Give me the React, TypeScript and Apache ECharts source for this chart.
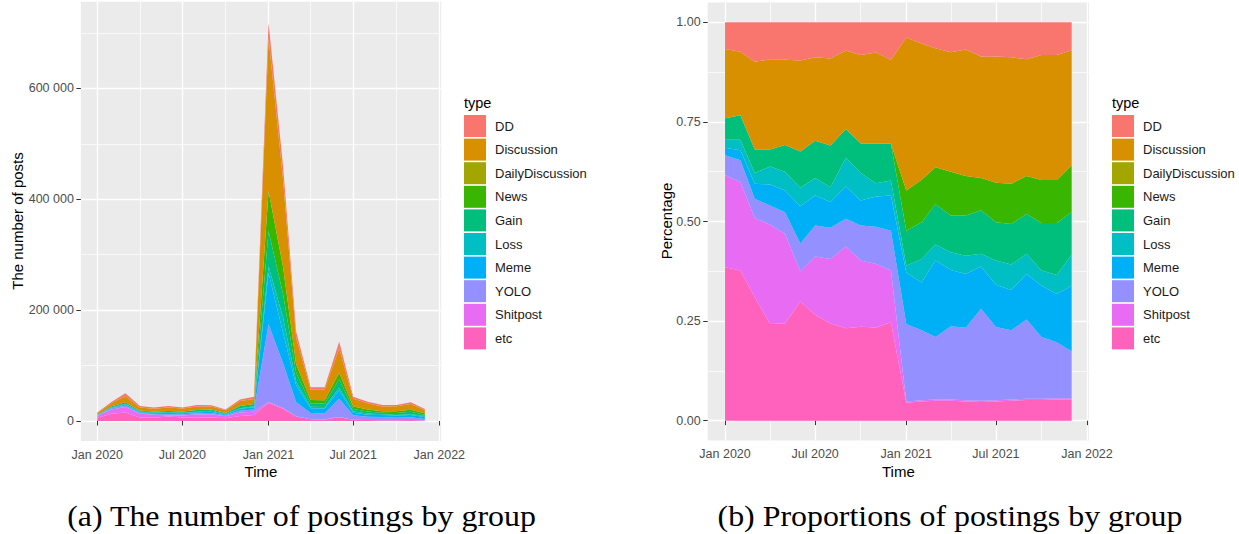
import React, { useEffect, useRef } from "react";
import * as echarts from "echarts";

// ---- data (monthly, first of month) ----
const months = [
  "2020-01", "2020-02", "2020-03", "2020-04", "2020-05", "2020-06",
  "2020-07", "2020-08", "2020-09", "2020-10", "2020-11", "2020-12",
  "2021-01", "2021-02", "2021-03", "2021-04", "2021-05", "2021-06",
  "2021-07", "2021-08", "2021-09", "2021-10", "2021-11", "2021-12",
];

// total number of posts per month (panel a outline)
const totalPosts = [
  15600, 35000, 50000, 27000, 24600, 27000, 24600, 28900, 28300, 21000, 39000, 44000,
  718000, 460000, 161000, 61000, 61000, 143000, 44000, 35000, 29000, 29000, 33700, 21600,
];

// share of each type per month (panel b)
const ddShare = [
  0.067, 0.074, 0.099, 0.093, 0.094, 0.096, 0.088, 0.091, 0.071, 0.082, 0.076, 0.094,
  0.038, 0.053, 0.065, 0.075, 0.068, 0.086, 0.086, 0.088, 0.093, 0.082, 0.082, 0.070,
];
const discussionShare = [
  0.174, 0.159, 0.220, 0.226, 0.214, 0.228, 0.209, 0.218, 0.197, 0.222, 0.228, 0.210,
  0.384, 0.342, 0.299, 0.300, 0.318, 0.305, 0.317, 0.317, 0.293, 0.314, 0.314, 0.289,
];
const dailyDiscussionShare = [
  0, 0, 0, 0, 0, 0, 0, 0, 0, 0, 0, 0,
  0, 0, 0, 0, 0, 0, 0, 0, 0, 0, 0, 0,
];
const newsShare = [
  0, 0, 0, 0, 0, 0, 0, 0, 0, 0, 0, 0,
  0.101, 0.107, 0.093, 0.110, 0.099, 0.081, 0.099, 0.101, 0.095, 0.108, 0.108, 0.117,
];
const gainShare = [
  0.054, 0.062, 0.059, 0.043, 0.067, 0.091, 0.094, 0.105, 0.072, 0.074, 0.100, 0.093,
  0.088, 0.092, 0.101, 0.092, 0.101, 0.109, 0.096, 0.102, 0.100, 0.119, 0.130, 0.107,
];
const lossShare = [
  0.020, 0.026, 0.027, 0.045, 0.047, 0.047, 0.044, 0.037, 0.072, 0.069, 0.033, 0.038,
  0.017, 0.059, 0.040, 0.045, 0.046, 0.032, 0.061, 0.064, 0.051, 0.038, 0.048, 0.078,
];
const memeShare = [
  0.019, 0.025, 0.038, 0.053, 0.055, 0.093, 0.075, 0.065, 0.081, 0.063, 0.076, 0.088,
  0.129, 0.120, 0.192, 0.141, 0.135, 0.106, 0.106, 0.101, 0.114, 0.129, 0.121, 0.165,
];
const yoloShare = [
  0.050, 0.055, 0.048, 0.048, 0.054, 0.070, 0.078, 0.078, 0.070, 0.088, 0.094, 0.100,
  0.195, 0.176, 0.157, 0.184, 0.182, 0.231, 0.184, 0.174, 0.199, 0.155, 0.141, 0.118,
];
const shitpostShare = [
  0.231, 0.222, 0.199, 0.249, 0.225, 0.076, 0.146, 0.162, 0.205, 0.166, 0.159, 0.130,
  0.003, 0.003, 0.003, 0.003, 0.003, 0.003, 0.003, 0.003, 0.003, 0.003, 0.003, 0.003,
];
const etcShare = [
  0.385, 0.377, 0.310, 0.243, 0.244, 0.299, 0.266, 0.244, 0.232, 0.236, 0.234, 0.247,
  0.045, 0.048, 0.050, 0.050, 0.048, 0.047, 0.048, 0.050, 0.052, 0.052, 0.053, 0.053,
];

const typeNames = ["DD", "Discussion", "DailyDiscussion", "News", "Gain", "Loss", "Meme", "YOLO", "Shitpost", "etc"];
const typeColors = ["#F8766D", "#D89000", "#A3A500", "#39B600", "#00BF7D", "#00BFC4", "#00B0F6", "#9590FF", "#E76BF3", "#FF62BC"];
const typeShares = [ddShare, discussionShare, dailyDiscussionShare, newsShare, gainShare, lossShare, memeShare, yoloShare, shitpostShare, etcShare];

const countTicks = [0, 200000, 400000, 600000];
const countMinorTicks = [100000, 300000, 500000, 700000];
const shareTicks = [0, 0.25, 0.5, 0.75, 1];
const shareMinorTicks = [0.125, 0.375, 0.625, 0.875];
const dateTicks = ["2020-01", "2020-07", "2021-01", "2021-07", "2022-01"];
const dateMinorTicks = ["2020-04", "2020-10", "2021-04", "2021-10"];
const monthAbbr = ["Jan", "Feb", "Mar", "Apr", "May", "Jun", "Jul", "Aug", "Sep", "Oct", "Nov", "Dec"];

const captionA = "(a) The number of postings by group";
const captionB = "(b) Proportions of postings by group";

// ---- helpers ----
const toTs = (m: string) => Date.UTC(+m.slice(0, 4), +m.slice(5, 7) - 1, 1);
const monthTs = months.map(toTs);
const monthSum = months.map((_, i) => typeShares.reduce((s, arr) => s + arr[i], 0));
const fmtDate = (v: number) => {
  const d = new Date(v);
  return `${monthAbbr[d.getUTCMonth()]} ${d.getUTCFullYear()}`;
};
const fmtCount = (v: number) => (v === 0 ? "0" : `${Math.round(v / 1000)} 000`);

const FONT = "Liberation Sans";
const xMin = Date.UTC(2019, 10, 27);
const xMax = Date.UTC(2022, 0, 5);

function mainX(gridIndex: number) {
  return {
    type: "value", gridIndex, min: xMin, max: xMax,
    axisLine: { show: false },
    axisTick: { show: true, length: 4.5, lineStyle: { color: "#333333", width: 1 }, customValues: dateTicks.map(toTs) },
    axisLabel: { customValues: dateTicks.map(toTs), formatter: (v: number) => fmtDate(v), color: "#4D4D4D", fontFamily: FONT, fontSize: 12.5, margin: 7 },
    splitLine: { show: true, lineStyle: { color: "#FFFFFF", width: 1.3 } },
  };
}
function minorX(gridIndex: number) {
  return {
    type: "value", gridIndex, min: xMin, max: xMax, position: "bottom",
    axisLine: { show: false },
    axisTick: { show: false, customValues: dateMinorTicks.map(toTs) },
    axisLabel: { show: false, customValues: dateMinorTicks.map(toTs) },
    splitLine: { show: true, lineStyle: { color: "#FFFFFF", width: 0.7 } },
  };
}
function mainY(gridIndex: number, min: number, max: number, ticks: number[], fmt: (v: number) => string) {
  return {
    type: "value", gridIndex, min, max,
    axisLine: { show: false },
    axisTick: { show: true, length: 4.5, lineStyle: { color: "#333333", width: 1 }, customValues: ticks },
    axisLabel: { customValues: ticks, formatter: fmt, color: "#4D4D4D", fontFamily: FONT, fontSize: 12.5, margin: 7 },
    splitLine: { show: true, lineStyle: { color: "#FFFFFF", width: 1.3 } },
  };
}
function minorY(gridIndex: number, min: number, max: number, ticks: number[]) {
  return {
    type: "value", gridIndex, min, max, position: "left",
    axisLine: { show: false },
    axisTick: { show: false, customValues: ticks },
    axisLabel: { show: false, customValues: ticks },
    splitLine: { show: true, lineStyle: { color: "#FFFFFF", width: 0.7 } },
  };
}

// data rows are [value, time] so that the value (y) dimension is the stacked one
function buildSeries() {
  const out: any[] = [];
  const order = typeNames.map((_, k) => k).reverse(); // bottom (etc) first
  const common = (k: number) => ({
    type: "line", name: typeNames[k], color: typeColors[k],
    symbol: "none", showSymbol: false, silent: true,
    encode: { x: 1, y: 0 },
    lineStyle: { width: 0 }, itemStyle: { color: typeColors[k] },
    areaStyle: { color: typeColors[k], opacity: 1 },
  });
  order.forEach((k) => {
    out.push({
      ...common(k), xAxisIndex: 0, yAxisIndex: 0, stack: "count",
      data: monthTs.map((t, i) => [typeShares[k][i] * totalPosts[i], t]),
    });
  });
  order.forEach((k) => {
    out.push({
      ...common(k), xAxisIndex: 2, yAxisIndex: 2, stack: "share",
      data: monthTs.map((t, i) => [typeShares[k][i] / monthSum[i], t]),
    });
  });
  return out;
}

function legend(left: number) {
  return {
    orient: "vertical", left, top: 115, padding: 0, itemGap: 1.6,
    itemWidth: 22, itemHeight: 22, icon: "rect", selectedMode: false,
    data: typeNames,
    textStyle: { color: "#1A1A1A", fontFamily: FONT, fontSize: 13, padding: [0, 0, 0, 4] },
  };
}

export default function App() {
  const ref = useRef<HTMLDivElement>(null);
  useEffect(() => {
    if (!ref.current) return;
    const chart = echarts.init(ref.current, undefined, { renderer: "svg" });
    const titleStyle = { fill: "#000000", fontFamily: FONT, fontSize: 15 };
    const captionStyle = { fill: "#000000", fontFamily: "Liberation Serif", fontSize: 29, textAlign: "center", textVerticalAlign: "middle" };
    chart.setOption({
      animation: false,
      backgroundColor: "#FFFFFF",
      grid: [
        { left: 80.9, top: 1.8, width: 360.3, height: 439.2, show: true, backgroundColor: "#EBEBEB", borderWidth: 0 },
        { left: 707.7, top: 2.4, width: 381.3, height: 438.2, show: true, backgroundColor: "#EBEBEB", borderWidth: 0 },
      ],
      xAxis: [mainX(0), minorX(0), mainX(1), minorX(1)],
      yAxis: [
        mainY(0, -36000, 756000, countTicks, fmtCount),
        minorY(0, -36000, 756000, countMinorTicks),
        mainY(1, -0.05, 1.05, shareTicks, (v: number) => v.toFixed(2)),
        minorY(1, -0.05, 1.05, shareMinorTicks),
      ],
      legend: [legend(464), legend(1112)],
      series: buildSeries(),
      graphic: [
        { type: "text", left: 464, top: 95, style: { ...titleStyle, text: "type", fontSize: 14.5 } },
        { type: "text", left: 1112, top: 95, style: { ...titleStyle, text: "type", fontSize: 14.5 } },
        { type: "text", x: 261, y: 471, style: { ...titleStyle, text: "Time", textAlign: "center", textVerticalAlign: "middle" } },
        { type: "text", x: 898.4, y: 471, style: { ...titleStyle, text: "Time", textAlign: "center", textVerticalAlign: "middle" } },
        { type: "text", x: 17, y: 221, rotation: Math.PI / 2, style: { ...titleStyle, text: "The number of posts", textAlign: "center", textVerticalAlign: "middle" } },
        { type: "text", x: 666, y: 221, rotation: Math.PI / 2, style: { ...titleStyle, text: "Percentage", textAlign: "center", textVerticalAlign: "middle" } },
        { type: "text", x: 301.5, y: 516, scaleX: 1.1, style: { ...captionStyle, text: captionA } },
        { type: "text", x: 950, y: 516, scaleX: 1.1, style: { ...captionStyle, text: captionB } },
      ],
    });
    return () => chart.dispose();
  }, []);
  return (
    <div
      ref={ref}
      style={{ position: "absolute", left: 0, top: 0, width: 1239, height: 534 }}
    />
  );
}
